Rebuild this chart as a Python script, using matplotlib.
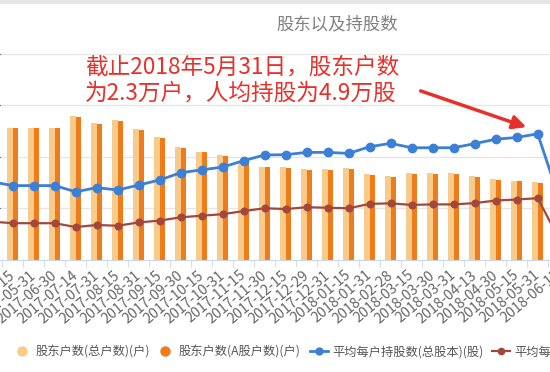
import matplotlib
matplotlib.use('Agg')
import matplotlib.pyplot as plt
import matplotlib.transforms as mtransforms
import numpy as np
from matplotlib.lines import Line2D
from matplotlib.patches import Rectangle, FancyArrowPatch

plt.rcParams['font.family'] = ['Noto Sans CJK SC', 'DejaVu Sans']

# ---------------- data ----------------
dates = ['2017-04-28', '2017-05-15', '2017-05-31', '2017-06-30', '2017-07-14',
         '2017-07-31', '2017-08-15', '2017-08-31', '2017-09-15', '2017-09-30',
         '2017-10-15', '2017-10-31', '2017-11-15', '2017-11-30', '2017-12-15',
         '2017-12-29', '2017-12-31', '2018-01-15', '2018-01-31', '2018-02-28',
         '2018-03-15', '2018-03-30', '2018-03-31', '2018-04-13', '2018-04-30',
         '2018-05-15', '2018-05-31', '2018-06-15']

total_households = [38500, 38400, 38400, 38400, 41900, 39700, 40600, 38000, 35600, 32700,
                    31400, 30400, 28300, 27000, 26800, 26400, 26400, 26600, 24900, 24300,
                    25200, 25200, 25200, 24300, 23400, 23000, 22600, 23500]
a_households = [38300, 38200, 38200, 38200, 41600, 39500, 40400, 37800, 35400, 32400,
                31200, 30200, 28100, 26800, 26600, 26200, 26200, 26400, 24700, 24100,
                25000, 25000, 25000, 24100, 23200, 22800, 22400, 23300]
avg_total = [30200, 28700, 28700, 28700, 26300, 27900, 27000, 28900, 30900, 33700,
             34800, 35900, 38400, 40600, 40700, 41600, 41600, 41200, 43800, 45100,
             43400, 43400, 43400, 45000, 46700, 47400, 48800, 24300]
avg_a = [14700, 14100, 14100, 14100, 12600, 13400, 13100, 14400, 15100, 16400,
         17000, 17600, 18800, 19900, 19600, 20300, 20100, 19900, 21600, 21800,
         21200, 21400, 21400, 21900, 22900, 23300, 23800, 8300]

legend_labels = ['股东户数(总户数)(户)', '股东户数(A股户数)(户)',
                 '平均每户持股数(总股本)(股)', '平均每户持股数(A股)(股)']
title = '股东以及持股数'
note_line1 = '截止2018年5月31日，股东户数'
note_line2 = '为2.3万户，人均持股为4.9万股'

c_light = '#f9cb8b'
c_dark = '#f07b1b'
c_blue = '#3b80d6'
c_brown = '#a3473d'

# ---------------- figure ----------------
W, H = 550, 372
fig = plt.figure(figsize=(5.5, 3.72), dpi=100)
fig.patch.set_facecolor('white')


def fx(px):
    return px / W


def fy(py):
    return 1 - py / H


ax = fig.add_axes([0, fy(259.5), 1, (259.5 - 53.5) / H])
x = np.arange(len(dates))
bw = 0.245
off = 0.13
ax.bar(x - off, total_households, bw, color=c_light, zorder=2)
ax.bar(x + off, a_households, bw, color=c_dark, zorder=2)
ax.set_ylim(0, 60000)
ax.set_yticks(np.arange(15000, 60001, 15000))
ax.yaxis.grid(True, color='#e6e6e6', lw=1)
ax.set_axisbelow(True)
ax.tick_params(axis='y', left=False, labelleft=False)
for s in ['left', 'right', 'top']:
    ax.spines[s].set_visible(False)
ax.spines['bottom'].set_color('#ccd6eb')

lab_size = 10.3
lab_pad = 10
ax.set_xticks(x)
ax.set_xticklabels(dates, rotation=40, ha='right', va='center',
                   rotation_mode='anchor', fontsize=lab_size, color='#666666')
ax.tick_params(axis='x', which='major', length=0, pad=lab_pad)
ax.set_xticks(x[:-1] + 0.5, minor=True)
ax.tick_params(axis='x', which='minor', length=5, color='#ccd6eb')

ax2 = ax.twinx()
ax2.set_axis_off()
ax2.plot(x, avg_a, color=c_brown, lw=1.6, marker='o', ms=4.8, zorder=3)
ax2.plot(x, avg_total, color=c_blue, lw=2, marker='o', ms=6, zorder=4)
ax2.set_ylim(0, 80000)
ax.set_xlim(0.395, 26.586)
ax2.set_xlim(0.395, 26.586)

# label of the category just beyond the right edge (partly visible)
trans = mtransforms.blended_transform_factory(ax.transData, ax.transAxes) + \
    mtransforms.ScaledTranslation(0, -lab_pad / 72, fig.dpi_scale_trans)
ax.text(x[-1], 0, dates[-1], transform=trans, rotation=40, ha='right', va='center',
        rotation_mode='anchor', fontsize=lab_size, color='#666666', clip_on=False)

# title & annotation
fig.text(fx(337.5), fy(24), title, ha='center', va='center', fontsize=12.5, color='#808080')
fig.text(fx(85), fy(67), note_line1, ha='left', va='center', fontsize=16.3, color='#e8302a')
fig.text(fx(85), fy(93), note_line2, ha='left', va='center', fontsize=16.3, color='#e8302a')
fig.add_artist(FancyArrowPatch(
    (fx(418), fy(90)), (fx(529), fy(128)), transform=fig.transFigure,
    arrowstyle='-|>', mutation_scale=20, color='#e8302a', lw=2.5))

# top frame line
fig.add_artist(Rectangle((0, fy(3.5)), 1, 3.5 / H, transform=fig.transFigure,
                         color='#e6e6e6', lw=0))

# legend (one entry per item, placed like the reference)
handles = [Line2D([], [], ls='none', marker='o', ms=6.5, color=c_light),
           Line2D([], [], ls='none', marker='o', ms=6.5, color=c_dark),
           Line2D([], [], color=c_blue, lw=2, marker='o', ms=5),
           Line2D([], [], color=c_brown, lw=1.6, marker='o', ms=4.5)]
starts = [13, 156, 310, 492]
for h, lab, s in zip(handles, legend_labels, starts):
    fig.legend([h], [lab], loc='center left', bbox_to_anchor=(fx(s), fy(352)),
               frameon=False, fontsize=8.8, handlelength=1.45, handletextpad=0.4,
               borderpad=0, borderaxespad=0, labelcolor='#555555')

fig.savefig('out.png', dpi=100)
